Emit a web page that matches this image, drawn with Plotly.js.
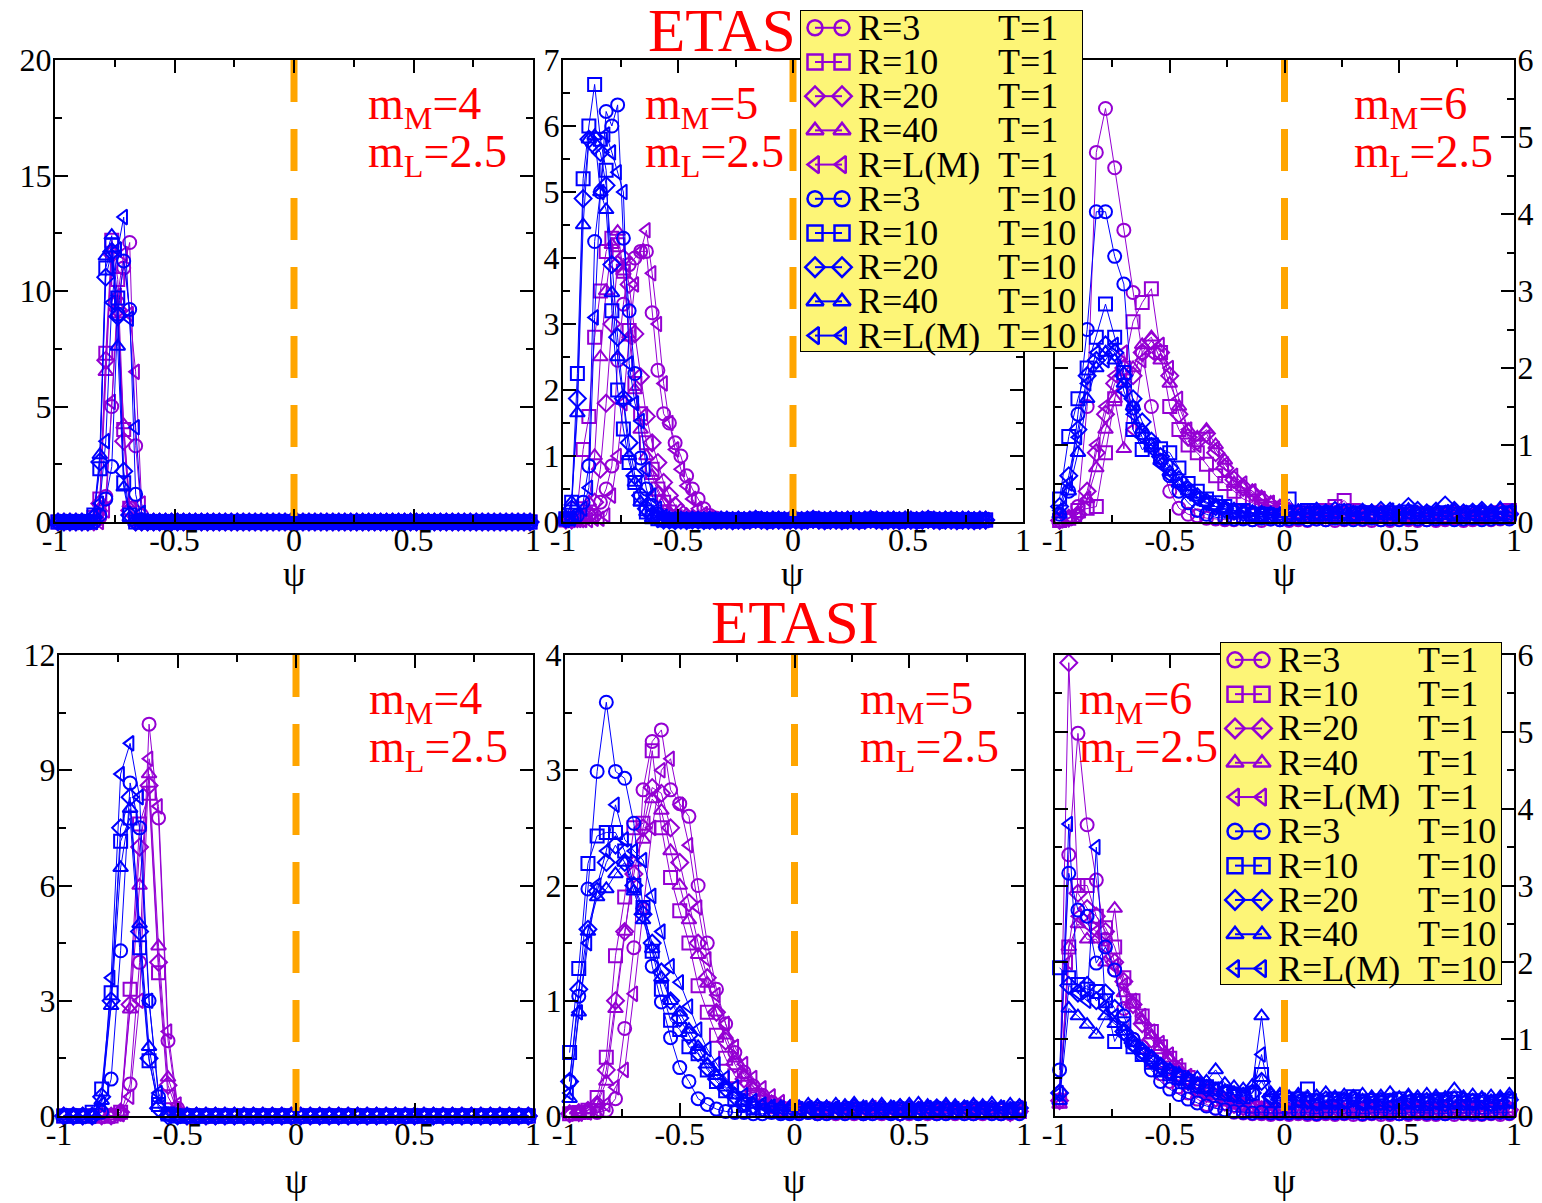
<!DOCTYPE html>
<html>
<head>
<meta charset="utf-8">
<script src="https://cdn.plot.ly/plotly-3.0.1.min.js"></script>
<style>
  html, body { margin: 0; padding: 0; background: #fff; }
  #chart { width: 1542px; height: 1203px; }
</style>
</head>
<body>
<div id="chart"></div>
<script>
// ---------------------------------------------------------------------------
// Distributions of psi for ETAS (top row) and ETASI (bottom row) catalogues,
// m_M = 4, 5, 6 with m_L = 2.5, for several R values and T = 1 / T = 10.
// ---------------------------------------------------------------------------

// bin centres
const psiFine = [
  -0.9875,-0.9625,-0.9375,-0.9125,-0.8875,-0.8625,-0.8375,-0.8125,-0.7875,-0.7625,
  -0.7375,-0.7125,-0.6875,-0.6625,-0.6375,-0.6125,-0.5875,-0.5625,-0.5375,-0.5125,
  -0.4875,-0.4625,-0.4375,-0.4125,-0.3875,-0.3625,-0.3375,-0.3125,-0.2875,-0.2625,
  -0.2375,-0.2125,-0.1875,-0.1625,-0.1375,-0.1125,-0.0875,-0.0625,-0.0375,-0.0125,
  0.0125,0.0375,0.0625,0.0875,0.1125,0.1375,0.1625,0.1875,0.2125,0.2375,
  0.2625,0.2875,0.3125,0.3375,0.3625,0.3875,0.4125,0.4375,0.4625,0.4875,
  0.5125,0.5375,0.5625,0.5875,0.6125,0.6375,0.6625,0.6875,0.7125,0.7375,
  0.7625,0.7875,0.8125,0.8375,0.8625,0.8875,0.9125,0.9375,0.9625,0.9875];
const psiCoarse = [
  -0.98,-0.94,-0.90,-0.86,-0.82,-0.78,-0.74,-0.70,-0.66,-0.62,
  -0.58,-0.54,-0.50,-0.46,-0.42,-0.38,-0.34,-0.30,-0.26,-0.22,
  -0.18,-0.14,-0.10,-0.06,-0.02,0.02,0.06,0.10,0.14,0.18,
  0.22,0.26,0.30,0.34,0.38,0.42,0.46,0.50,0.54,0.58,
  0.62,0.66,0.70,0.74,0.78,0.82,0.86,0.90,0.94,0.98];

// ---------------- ETAS, m_M = 4 ----------------
const etas4_t1_r3 = [
  0,0,0,0,0,0,0,0.2,1.1,5.0, 9.5,11.0,12.1,3.3,0.3,0,0,0,0,0,
  0,0,0,0,0,0,0,0,0,0, 0,0,0,0,0,0,0,0,0,0, 0,0,0,0,0,0,0,0,0,0,
  0,0,0,0,0,0,0,0,0,0, 0,0,0,0,0,0,0,0,0,0, 0,0,0,0,0,0,0,0,0,0];
const etas4_t1_r10 = [
  0,0,0,0,0,0,0.2,1.0,7.3,12.2, 10.5,4.0,0.6,0.1,0,0,0,0,0,0,
  0,0,0,0,0,0,0,0,0,0, 0,0,0,0,0,0,0,0,0,0, 0,0,0,0,0,0,0,0,0,0,
  0,0,0,0,0,0,0,0,0,0, 0,0,0,0,0,0,0,0,0,0, 0,0,0,0,0,0,0,0,0,0];
const etas4_t1_r20 = [
  0,0,0,0,0,0,0,0.8,7.0,11.6, 9.2,3.5,0.5,0,0,0,0,0,0,0,
  0,0,0,0,0,0,0,0,0,0, 0,0,0,0,0,0,0,0,0,0, 0,0,0,0,0,0,0,0,0,0,
  0,0,0,0,0,0,0,0,0,0, 0,0,0,0,0,0,0,0,0,0, 0,0,0,0,0,0,0,0,0,0];
const etas4_t1_r40 = [
  0,0,0,0,0,0,0,0.6,6.5,11.8, 9.0,4.2,0.8,0,0,0,0,0,0,0,
  0,0,0,0,0,0,0,0,0,0, 0,0,0,0,0,0,0,0,0,0, 0,0,0,0,0,0,0,0,0,0,
  0,0,0,0,0,0,0,0,0,0, 0,0,0,0,0,0,0,0,0,0, 0,0,0,0,0,0,0,0,0,0];
const etas4_t1_rL = [
  0,0,0,0,0,0,0,0,0.5,5.2, 9.8,11.6,9.0,6.5,0.8,0,0,0,0,0,
  0,0,0,0,0,0,0,0,0,0, 0,0,0,0,0,0,0,0,0,0, 0,0,0,0,0,0,0,0,0,0,
  0,0,0,0,0,0,0,0,0,0, 0,0,0,0,0,0,0,0,0,0, 0,0,0,0,0,0,0,0,0,0];
const etas4_t10_r3 = [
  0,0,0,0,0,0,0,0.3,1.0,2.4, 9.0,11.3,9.2,1.2,0.1,0,0,0,0,0,
  0,0,0,0,0,0,0,0,0,0, 0,0,0,0,0,0,0,0,0,0, 0,0,0,0,0,0,0,0,0,0,
  0,0,0,0,0,0,0,0,0,0, 0,0,0,0,0,0,0,0,0,0, 0,0,0,0,0,0,0,0,0,0];
const etas4_t10_r10 = [
  0,0,0,0,0,0,0.3,2.3,11.0,12.0, 9.7,1.7,0.3,0,0,0,0,0,0,0,
  0,0,0,0,0,0,0,0,0,0, 0,0,0,0,0,0,0,0,0,0, 0,0,0,0,0,0,0,0,0,0,
  0,0,0,0,0,0,0,0,0,0, 0,0,0,0,0,0,0,0,0,0, 0,0,0,0,0,0,0,0,0,0];
const etas4_t10_r20 = [
  0,0,0,0,0,0,0.2,2.6,10.6,11.7, 8.9,2.2,0.3,0,0,0,0,0,0,0,
  0,0,0,0,0,0,0,0,0,0, 0,0,0,0,0,0,0,0,0,0, 0,0,0,0,0,0,0,0,0,0,
  0,0,0,0,0,0,0,0,0,0, 0,0,0,0,0,0,0,0,0,0, 0,0,0,0,0,0,0,0,0,0];
const etas4_t10_r40 = [
  0,0,0,0,0,0,0.3,2.9,11.5,12.4, 7.6,1.5,0.2,0,0,0,0,0,0,0,
  0,0,0,0,0,0,0,0,0,0, 0,0,0,0,0,0,0,0,0,0, 0,0,0,0,0,0,0,0,0,0,
  0,0,0,0,0,0,0,0,0,0, 0,0,0,0,0,0,0,0,0,0, 0,0,0,0,0,0,0,0,0,0];
const etas4_t10_rL = [
  0,0,0,0,0,0,0,0.8,3.5,9.5, 11.8,13.2,8.8,4.1,0.4,0,0,0,0,0,
  0,0,0,0,0,0,0,0,0,0, 0,0,0,0,0,0,0,0,0,0, 0,0,0,0,0,0,0,0,0,0,
  0,0,0,0,0,0,0,0,0,0, 0,0,0,0,0,0,0,0,0,0, 0,0,0,0,0,0,0,0,0,0];

// ---------------- ETAS, m_M = 5 (histogram stops at psi = 0.85) ----------------
const etas5_t1_r3 = [
  0.03,0.03,0.05,0.1,0.1,0.1,0.3,0.5,0.85,2.45,
  3.3,3.9,4.0,4.1,4.1,3.17,2.3,1.64,1.5,1.2,
  1.0,0.7,0.5,0.35,0.2,0.1,0.06,0.04,0.03,0.03,
  0.03,0.02,0.03,0.04,0.03,0.02,0.03,0.03,0.02,0.03,
  0.03,0.02,0.03,0.04,0.03,0.02,0.03,0.03,0.02,0.03,
  0.03,0.02,0.03,0.04,0.03,0.02,0.03,0.03,0.02,0.03,
  0.03,0.02,0.03,0.04,0.03,0.02,0.03,0.03,0.02,0.03,
  0.03,0.02,0.03,0.03];
const etas5_t1_r10 = [
  0.03,0.05,0.2,1.1,1.6,2.8,3.5,4.1,4.3,4.2,
  3.8,2.9,2.1,1.64,1.2,0.8,0.5,0.3,0.15,0.08,
  0.05,0.04,0.03,0.03,0.02,0.03,0.03,0.02,0.03,0.03,
  0.03,0.02,0.03,0.04,0.03,0.02,0.03,0.03,0.02,0.03,
  0.03,0.02,0.03,0.04,0.03,0.02,0.03,0.03,0.02,0.03,
  0.03,0.02,0.03,0.04,0.03,0.02,0.03,0.03,0.02,0.03,
  0.03,0.02,0.03,0.04,0.03,0.02,0.03,0.03,0.02,0.03,
  0.03,0.02,0.03,0.03];
const etas5_t1_r20 = [
  0.03,0.03,0.05,0.05,0.1,0.3,0.8,1.8,3.0,3.9,
  4.0,3.6,2.85,2.2,1.6,1.2,0.9,0.6,0.4,0.25,
  0.15,0.08,0.05,0.04,0.03,0.03,0.02,0.03,0.03,0.02,
  0.03,0.02,0.03,0.04,0.03,0.02,0.03,0.03,0.02,0.03,
  0.03,0.02,0.03,0.04,0.03,0.02,0.03,0.03,0.02,0.03,
  0.03,0.02,0.03,0.04,0.03,0.02,0.03,0.03,0.02,0.03,
  0.03,0.02,0.03,0.04,0.03,0.02,0.03,0.03,0.02,0.03,
  0.03,0.02,0.03,0.03];
const etas5_t1_r40 = [
  0.03,0.03,0.05,0.1,0.3,1.0,2.5,3.5,4.2,4.4,
  3.8,2.8,2.0,1.4,1.0,0.7,0.45,0.3,0.15,0.08,
  0.05,0.04,0.03,0.03,0.02,0.03,0.03,0.02,0.03,0.03,
  0.03,0.02,0.03,0.04,0.03,0.02,0.03,0.03,0.02,0.03,
  0.03,0.02,0.03,0.04,0.03,0.02,0.03,0.03,0.02,0.03,
  0.03,0.02,0.03,0.04,0.03,0.02,0.03,0.03,0.02,0.03,
  0.03,0.02,0.03,0.04,0.03,0.02,0.03,0.03,0.02,0.03,
  0.03,0.02,0.03,0.03];
const etas5_t1_rL = [
  0.03,0.03,0.03,0.03,0.03,0.05,0.05,0.1,0.4,1.0,
  1.8,2.8,3.6,4.1,4.42,3.77,3.0,2.1,1.5,1.1,
  0.8,0.55,0.35,0.2,0.12,0.06,0.04,0.03,0.03,0.03,
  0.03,0.02,0.03,0.04,0.03,0.02,0.03,0.03,0.02,0.03,
  0.03,0.02,0.03,0.04,0.03,0.02,0.03,0.03,0.02,0.03,
  0.03,0.02,0.03,0.04,0.03,0.02,0.03,0.03,0.02,0.03,
  0.03,0.02,0.03,0.04,0.03,0.02,0.03,0.03,0.02,0.03,
  0.03,0.02,0.03,0.03];
const etas5_t10_r3 = [
  0.03,0.05,0.1,0.3,0.85,4.25,5.0,6.22,6.0,6.32,
  4.3,3.2,2.25,0.97,0.5,0.25,0.12,0.05,0.03,0.03,
  0.02,0.03,0.03,0.02,0.03,0.02,0.03,0.03,0.02,0.03,
  0.03,0.02,0.03,0.04,0.03,0.02,0.03,0.03,0.02,0.03,
  0.03,0.02,0.03,0.04,0.03,0.02,0.03,0.03,0.02,0.03,
  0.03,0.02,0.03,0.04,0.03,0.02,0.03,0.03,0.02,0.03,
  0.03,0.02,0.03,0.04,0.03,0.02,0.03,0.03,0.02,0.03,
  0.03,0.02,0.03,0.03];
const etas5_t10_r10 = [
  0.05,0.3,2.25,5.2,6.0,6.63,5.8,5.33,3.2,2.0,
  1.41,0.9,0.6,0.35,0.15,0.08,0.05,0.03,0.03,0.02,
  0.03,0.02,0.03,0.03,0.02,0.03,0.02,0.03,0.03,0.02,
  0.03,0.02,0.03,0.04,0.03,0.02,0.03,0.03,0.02,0.03,
  0.03,0.02,0.03,0.04,0.03,0.02,0.03,0.03,0.02,0.03,
  0.03,0.02,0.03,0.04,0.03,0.02,0.03,0.03,0.02,0.03,
  0.03,0.02,0.03,0.04,0.03,0.02,0.03,0.03,0.02,0.03,
  0.03,0.02,0.03,0.03];
const etas5_t10_r20 = [
  0.05,0.2,1.87,4.9,5.8,5.7,5.6,5.1,3.9,2.8,
  1.87,1.2,0.7,0.4,0.2,0.1,0.05,0.03,0.03,0.02,
  0.03,0.02,0.03,0.03,0.02,0.03,0.02,0.03,0.03,0.02,
  0.03,0.02,0.03,0.04,0.03,0.02,0.03,0.03,0.02,0.03,
  0.03,0.02,0.03,0.04,0.03,0.02,0.03,0.03,0.02,0.03,
  0.03,0.02,0.03,0.04,0.03,0.02,0.03,0.03,0.02,0.03,
  0.03,0.02,0.03,0.04,0.03,0.02,0.03,0.03,0.02,0.03,
  0.03,0.02,0.03,0.03];
const etas5_t10_r40 = [
  0.05,0.3,1.65,4.5,5.8,5.85,5.0,4.73,3.47,2.5,
  1.84,1.0,0.6,0.3,0.15,0.06,0.03,0.03,0.02,0.03,
  0.03,0.02,0.03,0.03,0.02,0.03,0.02,0.03,0.03,0.02,
  0.03,0.02,0.03,0.04,0.03,0.02,0.03,0.03,0.02,0.03,
  0.03,0.02,0.03,0.04,0.03,0.02,0.03,0.03,0.02,0.03,
  0.03,0.02,0.03,0.04,0.03,0.02,0.03,0.03,0.02,0.03,
  0.03,0.02,0.03,0.04,0.03,0.02,0.03,0.03,0.02,0.03,
  0.03,0.02,0.03,0.03];
const etas5_t10_rL = [
  0.03,0.05,0.1,0.2,0.52,3.1,5.0,5.87,5.6,5.3,
  5.0,2.4,1.8,1.53,0.8,0.4,0.2,0.08,0.03,0.03,
  0.03,0.02,0.03,0.03,0.02,0.03,0.02,0.03,0.03,0.02,
  0.03,0.02,0.03,0.04,0.03,0.02,0.03,0.03,0.02,0.03,
  0.03,0.02,0.03,0.04,0.03,0.02,0.03,0.03,0.02,0.03,
  0.03,0.02,0.03,0.04,0.03,0.02,0.03,0.03,0.02,0.03,
  0.03,0.02,0.03,0.04,0.03,0.02,0.03,0.03,0.02,0.03,
  0.03,0.02,0.03,0.03];

// ---------------- ETAS, m_M = 6 ----------------
const etas6_t1_r3 = [
  0.02,0.05,0.2,1.5,4.8,5.37,4.6,3.79,2.98,2.2,
  1.5,0.8,0.4,0.18,0.1,0.08,0.05,0.04,0.03,0.03,
  0.05,0.03,0.02,0.04,0.03,0.02,0.03,0.02,0.04,0.03,
  0.02,0.03,0.05,0.03,0.02,0.03,0.02,0.04,0.03,0.02,
  0.03,0.02,0.03,0.04,0.02,0.03,0.05,0.03,0.04,0.06];
const etas6_t1_r10 = [
  0.02,0.05,0.15,0.18,0.2,0.9,1.6,2.0,2.6,2.85,
  3.03,2.2,1.5,1.2,1.0,0.9,0.75,0.6,0.5,0.4,
  0.3,0.25,0.2,0.18,0.15,0.12,0.1,0.12,0.1,0.15,
  0.2,0.28,0.15,0.1,0.12,0.1,0.08,0.1,0.09,0.08,
  0.1,0.07,0.08,0.06,0.08,0.07,0.1,0.08,0.12,0.15];
const etas6_t1_r20 = [
  0.02,0.05,0.1,0.4,0.9,1.4,1.8,2.0,1.9,2.2,
  2.35,2.2,1.9,1.4,1.1,1.05,1.15,0.9,0.7,0.55,
  0.45,0.38,0.3,0.22,0.18,0.14,0.12,0.1,0.11,0.09,
  0.1,0.08,0.12,0.1,0.09,0.11,0.08,0.1,0.12,0.09,
  0.1,0.08,0.09,0.11,0.1,0.08,0.12,0.1,0.13,0.11];
const etas6_t1_r40 = [
  0.02,0.05,0.1,0.3,0.7,1.2,1.6,0.95,2.0,2.3,
  2.4,2.1,1.8,1.5,1.2,1.1,1.2,1.0,0.8,0.5,
  0.45,0.4,0.3,0.25,0.2,0.12,0.1,0.12,0.09,0.11,
  0.08,0.1,0.12,0.09,0.1,0.08,0.11,0.09,0.1,0.12,
  0.08,0.1,0.09,0.11,0.08,0.1,0.12,0.09,0.11,0.14];
const etas6_t1_rL = [
  0.02,0.05,0.1,0.3,1.0,1.5,1.9,2.2,1.2,2.1,
  2.2,2.3,2.0,1.6,1.2,1.0,1.1,0.95,0.75,0.6,
  0.5,0.4,0.3,0.25,0.2,0.14,0.11,0.1,0.12,0.1,
  0.09,0.11,0.1,0.08,0.1,0.12,0.09,0.1,0.08,0.11,
  0.1,0.09,0.12,0.1,0.08,0.1,0.11,0.09,0.12,0.1];
const etas6_t10_r3 = [
  0.1,0.4,1.4,2.5,4.03,4.03,3.45,3.09,1.48,1.16,
  1.0,0.8,0.6,0.4,0.25,0.15,0.1,0.06,0.05,0.04,
  0.04,0.03,0.05,0.04,0.03,0.04,0.05,0.03,0.04,0.03,
  0.05,0.04,0.03,0.04,0.05,0.03,0.04,0.03,0.05,0.04,
  0.03,0.04,0.05,0.03,0.04,0.05,0.03,0.04,0.05,0.04];
const etas6_t10_r10 = [
  0.3,1.11,1.6,2.0,2.4,2.83,2.4,1.94,1.2,0.94,
  1.0,0.95,0.9,0.7,0.5,0.4,0.3,0.25,0.2,0.15,
  0.15,0.1,0.1,0.08,0.08,0.3,0.12,0.15,0.1,0.12,
  0.1,0.14,0.1,0.12,0.1,0.08,0.12,0.1,0.13,0.1,
  0.08,0.1,0.12,0.1,0.08,0.12,0.1,0.08,0.1,0.12];
const etas6_t10_r20 = [
  0.2,0.6,1.2,1.9,2.1,2.3,2.2,1.9,1.6,1.3,
  1.05,0.85,0.7,0.55,0.42,0.33,0.26,0.2,0.17,0.14,
  0.12,0.11,0.1,0.09,0.08,0.1,0.12,0.1,0.14,0.12,
  0.15,0.12,0.1,0.13,0.12,0.15,0.14,0.12,0.2,0.15,
  0.12,0.14,0.22,0.15,0.12,0.13,0.15,0.12,0.14,0.1];
const etas6_t10_r40 = [
  0.1,0.4,0.9,1.6,2.0,2.2,2.1,1.8,1.5,1.2,
  1.0,0.8,0.65,0.5,0.4,0.32,0.25,0.2,0.17,0.15,
  0.13,0.12,0.11,0.1,0.1,0.12,0.14,0.11,0.13,0.12,
  0.1,0.15,0.12,0.11,0.14,0.12,0.1,0.13,0.16,0.12,
  0.11,0.13,0.12,0.15,0.1,0.12,0.14,0.11,0.18,0.12];
const etas6_t10_rL = [
  0.15,0.5,1.1,1.8,2.2,2.1,2.3,1.7,1.4,1.1,
  0.95,0.75,0.6,0.48,0.38,0.3,0.24,0.2,0.16,0.14,
  0.12,0.11,0.1,0.09,0.08,0.1,0.09,0.12,0.1,0.11,
  0.13,0.1,0.09,0.12,0.1,0.11,0.15,0.1,0.12,0.09,
  0.11,0.1,0.13,0.1,0.12,0.09,0.11,0.1,0.12,0.14];

// ---------------- ETASI, m_M = 4 ----------------
const etasi4_t1_r3 = [
  0,0,0,0,0,0,0.05,0.83,4.0,10.2, 7.76,1.96,0.2,0,0,0,0,0,0,0,
  0,0,0,0,0,0,0,0,0,0, 0,0,0,0,0,0,0,0,0,0, 0,0,0,0,0,0,0,0,0,0];
const etasi4_t1_r10 = [
  0,0,0,0,0,0,0.1,3.3,7.6,8.4, 3.73,0.5,0.05,0,0,0,0,0,0,0,
  0,0,0,0,0,0,0,0,0,0, 0,0,0,0,0,0,0,0,0,0, 0,0,0,0,0,0,0,0,0,0];
const etasi4_t1_r20 = [
  0,0,0,0,0,0,0.1,2.9,7.0,8.6, 4.0,0.8,0.1,0,0,0,0,0,0,0,
  0,0,0,0,0,0,0,0,0,0, 0,0,0,0,0,0,0,0,0,0, 0,0,0,0,0,0,0,0,0,0];
const etasi4_t1_r40 = [
  0,0,0,0,0,0,0.1,2.78,6.0,8.9, 4.42,1.0,0.2,0,0,0,0,0,0,0,
  0,0,0,0,0,0,0,0,0,0, 0,0,0,0,0,0,0,0,0,0, 0,0,0,0,0,0,0,0,0,0];
const etasi4_t1_rL = [
  0,0,0,0,0,0,0.05,0.5,3.0,9.3, 8.06,2.2,0.3,0,0,0,0,0,0,0,
  0,0,0,0,0,0,0,0,0,0, 0,0,0,0,0,0,0,0,0,0, 0,0,0,0,0,0,0,0,0,0];
const etasi4_t10_r3 = [
  0,0,0,0,0.1,0.96,4.3,8.67,7.5,3.0, 0.5,0.05,0,0,0,0,0,0,0,0,
  0,0,0,0,0,0,0,0,0,0, 0,0,0,0,0,0,0,0,0,0, 0,0,0,0,0,0,0,0,0,0];
const etasi4_t10_r10 = [
  0,0,0,0.1,0.7,3.21,7.15,7.76,4.38,1.44, 0.3,0.05,0,0,0,0,0,0,0,0,
  0,0,0,0,0,0,0,0,0,0, 0,0,0,0,0,0,0,0,0,0, 0,0,0,0,0,0,0,0,0,0];
const etasi4_t10_r20 = [
  0,0,0,0,0.5,3.0,7.5,8.3,4.8,1.5, 0.2,0,0,0,0,0,0,0,0,0,
  0,0,0,0,0,0,0,0,0,0, 0,0,0,0,0,0,0,0,0,0, 0,0,0,0,0,0,0,0,0,0];
const etasi4_t10_r40 = [
  0,0,0,0,0.4,2.87,6.46,8.0,5.0,1.8, 0.3,0,0,0,0,0,0,0,0,0,
  0,0,0,0,0,0,0,0,0,0, 0,0,0,0,0,0,0,0,0,0, 0,0,0,0,0,0,0,0,0,0];
const etasi4_t10_rL = [
  0,0,0,0,0.3,3.6,8.9,9.7,8.3,3.0, 0.6,0,0,0,0,0,0,0,0,0,
  0,0,0,0,0,0,0,0,0,0, 0,0,0,0,0,0,0,0,0,0, 0,0,0,0,0,0,0,0,0,0];

// ---------------- ETASI, m_M = 5 ----------------
const etasi5_t1_r3 = [
  0.02,0.02,0.03,0.03,0.05,0.15,0.76,1.46,2.83,3.25,
  3.35,2.83,2.71,2.6,2.0,1.5,1.1,0.8,0.55,0.38,
  0.26,0.18,0.12,0.08,0.05,0.03,0.03,0.02,0.03,0.02,
  0.03,0.02,0.02,0.03,0.02,0.03,0.02,0.02,0.03,0.02,
  0.02,0.03,0.02,0.03,0.02,0.02,0.03,0.02,0.02,0.03];
const etasi5_t1_r10 = [
  0.02,0.03,0.05,0.16,0.51,1.39,1.9,2.5,2.54,3.17,
  2.5,2.07,1.78,1.5,1.13,0.9,0.7,0.5,0.35,0.25,
  0.18,0.12,0.08,0.06,0.05,0.04,0.05,0.04,0.04,0.05,
  0.04,0.04,0.05,0.04,0.03,0.04,0.05,0.04,0.04,0.03,
  0.04,0.05,0.04,0.04,0.03,0.04,0.04,0.05,0.04,0.04];
const etasi5_t1_r20 = [
  0.02,0.03,0.05,0.1,0.4,1.0,1.6,2.1,2.5,2.85,
  2.8,2.5,2.2,1.85,1.5,1.2,0.9,0.65,0.45,0.32,
  0.22,0.15,0.1,0.07,0.05,0.04,0.05,0.04,0.05,0.04,
  0.04,0.05,0.04,0.04,0.05,0.04,0.03,0.04,0.05,0.04,
  0.04,0.04,0.05,0.04,0.04,0.05,0.04,0.04,0.03,0.04];
const etasi5_t1_r40 = [
  0.02,0.03,0.05,0.1,0.3,0.93,1.6,2.2,2.4,2.75,
  2.65,2.3,2.0,1.7,1.4,1.15,0.9,0.7,0.5,0.36,
  0.25,0.17,0.12,0.09,0.07,0.05,0.06,0.05,0.05,0.06,
  0.05,0.05,0.06,0.05,0.04,0.05,0.06,0.05,0.05,0.04,
  0.05,0.06,0.05,0.05,0.04,0.05,0.05,0.06,0.05,0.05];
const etasi5_t1_rL = [
  0.02,0.02,0.03,0.05,0.1,0.25,0.4,1.06,1.8,2.5,
  3.0,3.1,2.7,2.35,1.81,1.36,1.05,0.8,0.6,0.45,
  0.33,0.24,0.17,0.12,0.09,0.06,0.07,0.06,0.06,0.07,
  0.06,0.05,0.06,0.07,0.06,0.06,0.05,0.06,0.07,0.06,
  0.06,0.05,0.06,0.06,0.07,0.06,0.05,0.06,0.06,0.07];
const etasi5_t10_r3 = [
  0.3,1.04,1.97,2.99,3.59,2.99,2.93,2.54,1.8,1.3,
  0.99,0.68,0.42,0.3,0.15,0.1,0.06,0.04,0.03,0.03,
  0.02,0.02,0.03,0.02,0.02,0.02,0.03,0.02,0.02,0.03,
  0.02,0.03,0.02,0.02,0.03,0.02,0.02,0.03,0.02,0.03,
  0.02,0.02,0.03,0.02,0.02,0.03,0.02,0.02,0.03,0.02];
const etasi5_t10_r10 = [
  0.55,1.28,2.19,2.43,2.46,2.46,2.3,2.0,1.81,1.43,
  1.1,0.83,0.75,0.6,0.54,0.4,0.3,0.22,0.15,0.1,
  0.07,0.05,0.05,0.04,0.04,0.05,0.04,0.06,0.05,0.04,
  0.05,0.06,0.04,0.05,0.05,0.04,0.06,0.05,0.04,0.05,
  0.06,0.05,0.04,0.05,0.06,0.04,0.05,0.05,0.04,0.06];
const etasi5_t10_r20 = [
  0.3,1.1,1.62,1.95,2.2,2.35,2.2,2.0,1.75,1.5,
  1.25,1.0,0.85,0.7,0.55,0.42,0.32,0.24,0.17,0.12,
  0.09,0.07,0.06,0.05,0.05,0.06,0.05,0.07,0.06,0.05,
  0.06,0.07,0.05,0.06,0.06,0.05,0.07,0.06,0.05,0.06,
  0.07,0.06,0.05,0.06,0.07,0.05,0.06,0.06,0.05,0.07];
const etasi5_t10_r40 = [
  0.15,0.9,1.6,1.9,1.97,2.1,2.2,1.95,1.7,1.45,
  1.2,1.0,0.9,0.75,0.6,0.45,0.35,0.25,0.18,0.13,
  0.1,0.09,0.08,0.08,0.08,0.08,0.1,0.09,0.08,0.1,
  0.09,0.11,0.08,0.09,0.1,0.08,0.09,0.1,0.11,0.09,
  0.08,0.1,0.09,0.08,0.1,0.09,0.11,0.08,0.1,0.09];
const etasi5_t10_rL = [
  0.2,0.9,1.5,2.0,2.3,2.7,2.4,2.3,2.22,1.91,
  1.6,1.3,1.16,0.95,0.75,0.58,0.45,0.33,0.25,0.18,
  0.13,0.1,0.08,0.07,0.06,0.06,0.07,0.06,0.05,0.07,
  0.06,0.06,0.07,0.05,0.06,0.07,0.06,0.05,0.06,0.07,
  0.06,0.05,0.06,0.07,0.06,0.06,0.05,0.07,0.06,0.06];

// ---------------- ETASI, m_M = 6 ----------------
const etasi6_t1_r3 = [
  0.3,3.4,4.98,3.79,3.07,2.3,1.9,1.4,1.0,0.9,
  0.71,0.55,0.45,0.38,0.3,0.22,0.15,0.1,0.07,0.05,
  0.04,0.03,0.03,0.02,0.03,0.02,0.03,0.02,0.02,0.03,
  0.02,0.03,0.02,0.02,0.03,0.02,0.02,0.03,0.02,0.03,
  0.02,0.02,0.03,0.02,0.03,0.02,0.02,0.03,0.02,0.03];
const etasi6_t1_r10 = [
  0.2,2.2,3.0,3.0,2.6,2.45,2.2,1.8,1.5,1.3,
  1.1,0.9,0.75,0.6,0.5,0.4,0.33,0.27,0.22,0.18,
  0.15,0.12,0.1,0.08,0.08,0.07,0.08,0.06,0.07,0.08,
  0.07,0.06,0.08,0.07,0.07,0.06,0.08,0.07,0.06,0.07,
  0.08,0.07,0.06,0.07,0.08,0.07,0.06,0.07,0.07,0.08];
const etasi6_t1_r20 = [
  0.2,5.9,2.9,2.7,2.6,2.4,2.0,1.75,1.45,1.2,
  1.0,0.85,0.7,0.55,0.45,0.36,0.29,0.23,0.18,0.15,
  0.12,0.1,0.08,0.07,0.07,0.06,0.07,0.08,0.06,0.07,
  0.07,0.06,0.08,0.07,0.06,0.07,0.07,0.08,0.06,0.07,
  0.07,0.06,0.07,0.08,0.07,0.06,0.07,0.07,0.06,0.08];
const etasi6_t1_r40 = [
  0.15,2.2,2.5,2.3,2.3,2.0,2.7,1.6,1.45,1.25,
  1.05,0.9,0.75,0.62,0.5,0.4,0.32,0.26,0.2,0.16,
  0.13,0.1,0.09,0.08,0.08,0.08,0.07,0.09,0.08,0.08,
  0.09,0.07,0.08,0.08,0.09,0.08,0.07,0.08,0.09,0.08,
  0.08,0.07,0.09,0.08,0.08,0.09,0.07,0.08,0.08,0.09];
const etasi6_t1_rL = [
  0.2,2.0,2.6,2.5,2.4,2.2,1.95,1.7,1.5,1.3,
  1.1,0.95,0.8,0.65,0.52,0.42,0.34,0.27,0.21,0.17,
  0.13,0.1,0.09,0.08,0.08,0.07,0.08,0.08,0.07,0.08,
  0.08,0.07,0.08,0.07,0.08,0.08,0.07,0.08,0.08,0.07,
  0.08,0.08,0.07,0.08,0.07,0.08,0.08,0.07,0.08,0.08];
const etasi6_t10_r3 = [
  0.6,3.16,2.68,2.6,1.99,2.2,1.9,1.3,1.0,0.8,
  0.6,0.45,0.35,0.28,0.22,0.17,0.13,0.1,0.08,0.06,
  0.05,0.04,0.05,0.04,0.04,0.04,0.05,0.04,0.03,0.05,
  0.04,0.04,0.05,0.03,0.04,0.05,0.04,0.03,0.04,0.05,
  0.04,0.04,0.03,0.05,0.04,0.04,0.03,0.04,0.05,0.04];
const etasi6_t10_r10 = [
  1.93,1.8,1.71,1.65,1.62,1.5,0.97,1.2,0.9,0.8,
  0.7,0.6,0.55,0.5,0.45,0.4,0.38,0.35,0.3,0.28,
  0.25,0.3,0.54,0.2,0.2,0.18,0.22,0.35,0.2,0.18,
  0.22,0.2,0.25,0.18,0.2,0.17,0.2,0.22,0.18,0.2,
  0.16,0.19,0.21,0.18,0.17,0.2,0.18,0.16,0.19,0.2];
const etasi6_t10_r20 = [
  0.3,1.7,1.6,1.7,1.5,1.6,1.4,1.1,0.95,0.85,
  0.75,0.65,0.58,0.5,0.45,0.4,0.36,0.32,0.3,0.28,
  0.26,0.3,0.45,0.25,0.22,0.2,0.22,0.2,0.18,0.21,
  0.19,0.2,0.23,0.18,0.2,0.19,0.17,0.2,0.22,0.18,
  0.19,0.2,0.17,0.21,0.19,0.18,0.2,0.17,0.19,0.21];
const etasi6_t10_r40 = [
  0.2,1.4,1.3,1.19,1.06,1.3,1.2,1.1,0.95,0.85,
  0.75,0.65,0.6,0.55,0.5,0.5,0.45,0.6,0.42,0.38,
  0.35,0.4,1.3,0.3,0.28,0.25,0.28,0.24,0.26,0.3,
  0.25,0.27,0.24,0.28,0.25,0.26,0.3,0.24,0.27,0.25,
  0.28,0.26,0.24,0.35,0.25,0.27,0.24,0.26,0.25,0.28];
const etasi6_t10_rL = [
  0.3,3.8,1.6,1.5,3.5,1.4,1.3,1.05,0.9,0.8,
  0.7,0.62,0.55,0.5,0.45,0.4,0.37,0.34,0.31,0.28,
  0.26,0.3,0.8,0.24,0.22,0.18,0.2,0.19,0.17,0.2,
  0.18,0.19,0.21,0.17,0.18,0.2,0.19,0.17,0.2,0.18,
  0.19,0.17,0.2,0.18,0.19,0.17,0.2,0.18,0.19,0.2];

// labels
const rLabels = ['R=3', 'R=10', 'R=20', 'R=40', 'R=L(M)'];
const tLabels = ['T=1', 'T=10'];
const modelTitles = ['ETAS', 'ETASI'];
const mainMagnitudes = [4, 5, 6];
const lowerMagnitude = 2.5;
const psiTickVals = [-1, -0.5, 0, 0.5, 1];
const psiTickText = ['-1', '-0.5', '0', '0.5', '1'];
const psiBoundary = 0;

// ---------------------------------------------------------------------------
const W = 1542, H = 1203;
const SERIF = 'Liberation Serif, Times New Roman, DejaVu Serif, serif';
const VIOLET = '#9400d3', BLUE = '#0000ff', ORANGE = '#ffa500', RED = '#ff0000';
const LEGEND_BG = '#fdf577';
const symbols = ['circle-open', 'square-open', 'diamond-open', 'triangle-up-open', 'triangle-left-open'];
const fx = p => p / W;          // pixel column -> paper x
const fy = p => 1 - p / H;      // pixel row -> paper y

const panels = [
  { grid: psiFine,   yr: [0, 20], dt: 5, side: 'left',  xd: [55, 533],   yd: [60, 522],
    t1: [etas4_t1_r3, etas4_t1_r10, etas4_t1_r20, etas4_t1_r40, etas4_t1_rL],
    t10: [etas4_t10_r3, etas4_t10_r10, etas4_t10_r20, etas4_t10_r40, etas4_t10_rL],
    note: [366, 107] },
  { grid: psiFine,   yr: [0, 7], dt: 1, side: 'left',   xd: [563, 1023],  yd: [60, 522],
    t1: [etas5_t1_r3, etas5_t1_r10, etas5_t1_r20, etas5_t1_r40, etas5_t1_rL],
    t10: [etas5_t10_r3, etas5_t10_r10, etas5_t10_r20, etas5_t10_r40, etas5_t10_rL],
    note: [643, 107] },
  { grid: psiCoarse, yr: [0, 6], dt: 1, side: 'right',  xd: [1055, 1514], yd: [60, 522],
    t1: [etas6_t1_r3, etas6_t1_r10, etas6_t1_r20, etas6_t1_r40, etas6_t1_rL],
    t10: [etas6_t10_r3, etas6_t10_r10, etas6_t10_r20, etas6_t10_r40, etas6_t10_rL],
    note: [1352, 107] },
  { grid: psiCoarse, yr: [0, 12], dt: 3, side: 'left',  xd: [59, 533],   yd: [655, 1116],
    t1: [etasi4_t1_r3, etasi4_t1_r10, etasi4_t1_r20, etasi4_t1_r40, etasi4_t1_rL],
    t10: [etasi4_t10_r3, etasi4_t10_r10, etasi4_t10_r20, etasi4_t10_r40, etasi4_t10_rL],
    note: [367, 702] },
  { grid: psiCoarse, yr: [0, 4], dt: 1, side: 'left',   xd: [565, 1024],  yd: [655, 1116],
    t1: [etasi5_t1_r3, etasi5_t1_r10, etasi5_t1_r20, etasi5_t1_r40, etasi5_t1_rL],
    t10: [etasi5_t10_r3, etasi5_t10_r10, etasi5_t10_r20, etasi5_t10_r40, etasi5_t10_rL],
    note: [858, 702] },
  { grid: psiCoarse, yr: [0, 6], dt: 1, side: 'right',  xd: [1055, 1514], yd: [655, 1116],
    t1: [etasi6_t1_r3, etasi6_t1_r10, etasi6_t1_r20, etasi6_t1_r40, etasi6_t1_rL],
    t10: [etasi6_t10_r3, etasi6_t10_r10, etasi6_t10_r20, etasi6_t10_r40, etasi6_t10_rL],
    note: [1077, 702] }
];

const traces = [];
const layout = {
  width: W, height: H,
  margin: { l: 0, r: 0, t: 0, b: 0 },
  paper_bgcolor: '#ffffff', plot_bgcolor: 'rgba(0,0,0,0)',
  showlegend: false,
  font: { family: SERIF, color: '#000' },
  annotations: [], shapes: []
};

const tickFont = { family: SERIF, size: 32, color: '#000' };

panels.forEach((p, i) => {
  const n = i + 1;
  const xa = n === 1 ? 'x' : 'x' + n;
  const ya = n === 1 ? 'y' : 'y' + n;
  const mag = mainMagnitudes[i % 3];

  [[p.t1, VIOLET], [p.t10, BLUE]].forEach(([set, color]) => {
    set.forEach((ys, r) => {
      traces.push({
        type: 'scatter', mode: 'lines+markers',
        x: p.grid.slice(0, ys.length), y: ys,
        xaxis: xa, yaxis: ya, cliponaxis: false,
        line: { color: color, width: 1 },
        marker: { symbol: symbols[r], size: 13, color: color, line: { width: 2, color: color } },
        hoverinfo: 'skip'
      });
    });
  });

  // psi = 0 reference line
  traces.push({
    type: 'scatter', mode: 'lines',
    x: [psiBoundary, psiBoundary], y: [p.yr[1], p.yr[0]],
    xaxis: xa, yaxis: ya, cliponaxis: true,
    line: { color: ORANGE, width: 7, dash: '42px,27px' },
    hoverinfo: 'skip'
  });

  layout['xaxis' + (n === 1 ? '' : n)] = {
    domain: [fx(p.xd[0]), fx(p.xd[1])], anchor: ya,
    range: [-1, 1], fixedrange: true,
    tickmode: 'array', tickvals: psiTickVals, ticktext: psiTickText,
    ticks: 'inside', ticklen: 13, tickwidth: 2, tickcolor: '#000',
    minor: { dtick: 0.25, tick0: 0, ticks: 'inside', ticklen: 7, tickwidth: 2, tickcolor: '#000', showgrid: false },
    showline: true, linewidth: 2, linecolor: '#000', mirror: 'allticks',
    showgrid: false, zeroline: false, tickfont: tickFont, ticklabelstandoff: -11
  };
  layout['yaxis' + (n === 1 ? '' : n)] = {
    domain: [fy(p.yd[1]), fy(p.yd[0])], anchor: xa, side: p.side,
    range: p.yr, fixedrange: true,
    tickmode: 'linear', tick0: 0, dtick: p.dt,
    ticks: 'inside', ticklen: 13, tickwidth: 2, tickcolor: '#000',
    minor: { dtick: p.dt / 2, tick0: 0, ticks: 'inside', ticklen: 7, tickwidth: 2, tickcolor: '#000', showgrid: false },
    showline: true, linewidth: 2, linecolor: '#000', mirror: 'allticks',
    showgrid: false, zeroline: false, tickfont: tickFont, ticklabelstandoff: -5
  };

  // magnitude labels
  layout.annotations.push({
    xref: 'paper', yref: 'paper', x: fx(p.note[0]), y: fy(p.note[1]),
    xanchor: 'left', yanchor: 'middle', showarrow: false,
    text: 'm<sub>M</sub>=' + mag, font: { family: SERIF, size: 46, color: RED }
  });
  layout.annotations.push({
    xref: 'paper', yref: 'paper', x: fx(p.note[0]), y: fy(p.note[1] + 48),
    xanchor: 'left', yanchor: 'middle', showarrow: false,
    text: 'm<sub>L</sub>=' + lowerMagnitude, font: { family: SERIF, size: 46, color: RED }
  });

  // psi axis label
  layout.annotations.push({
    xref: 'paper', yref: 'paper',
    x: fx((p.xd[0] + p.xd[1]) / 2), y: fy(i < 3 ? 574 : 1181),
    xanchor: 'center', yanchor: 'middle', showarrow: false,
    text: 'ψ', font: { family: SERIF, size: 36, color: '#000' }
  });
});

// row titles
layout.annotations.push({
  xref: 'paper', yref: 'paper', x: fx(722), y: fy(30), xanchor: 'center', yanchor: 'middle',
  showarrow: false, text: modelTitles[0], font: { family: SERIF, size: 61, color: RED }
});
layout.annotations.push({
  xref: 'paper', yref: 'paper', x: fx(795), y: fy(622), xanchor: 'center', yanchor: 'middle',
  showarrow: false, text: modelTitles[1], font: { family: SERIF, size: 61, color: RED }
});

// legends: boxed keys drawn on their own (hidden) axes
const legendBoxes = [
  { n: 7, xd: [800, 1083], yd: [10, 352] },
  { n: 8, xd: [1220, 1502], yd: [642, 985] }
];
legendBoxes.forEach(b => {
  const xa = 'x' + b.n, ya = 'y' + b.n;
  const wpx = b.xd[1] - b.xd[0];
  layout['xaxis' + b.n] = { domain: [fx(b.xd[0]), fx(b.xd[1])], anchor: ya, range: [0, wpx], visible: false, fixedrange: true };
  layout['yaxis' + b.n] = { domain: [fy(b.yd[1]), fy(b.yd[0])], anchor: xa, range: [10, 0], visible: false, fixedrange: true };
  layout.shapes.push({
    type: 'rect', xref: xa, yref: ya, x0: 0, x1: wpx, y0: 0, y1: 10, layer: 'below',
    fillcolor: LEGEND_BG, line: { color: '#000', width: 2 }
  });
  [[VIOLET, tLabels[0]], [BLUE, tLabels[1]]].forEach(([color, tl], g) => {
    rLabels.forEach((rl, r) => {
      const row = g * rLabels.length + r + 0.52;
      traces.push({
        type: 'scatter', mode: 'lines+markers', x: [15, 42], y: [row, row],
        xaxis: xa, yaxis: ya, cliponaxis: false,
        line: { color: color, width: 2 },
        marker: { symbol: symbols[r], size: 15, color: color, line: { width: 2.5, color: color } },
        hoverinfo: 'skip'
      });
      layout.annotations.push({
        xref: xa, yref: ya, x: 56, y: row, xanchor: 'left', yanchor: 'middle', showarrow: false,
        text: rl, font: { family: SERIF, size: 36, color: '#000' }
      });
      layout.annotations.push({
        xref: xa, yref: ya, x: 196, y: row, xanchor: 'left', yanchor: 'middle', showarrow: false,
        text: tl, font: { family: SERIF, size: 36, color: '#000' }
      });
    });
  });
});

Plotly.newPlot('chart', traces, layout, { displayModeBar: false, staticPlot: true });
</script>
</body>
</html>
